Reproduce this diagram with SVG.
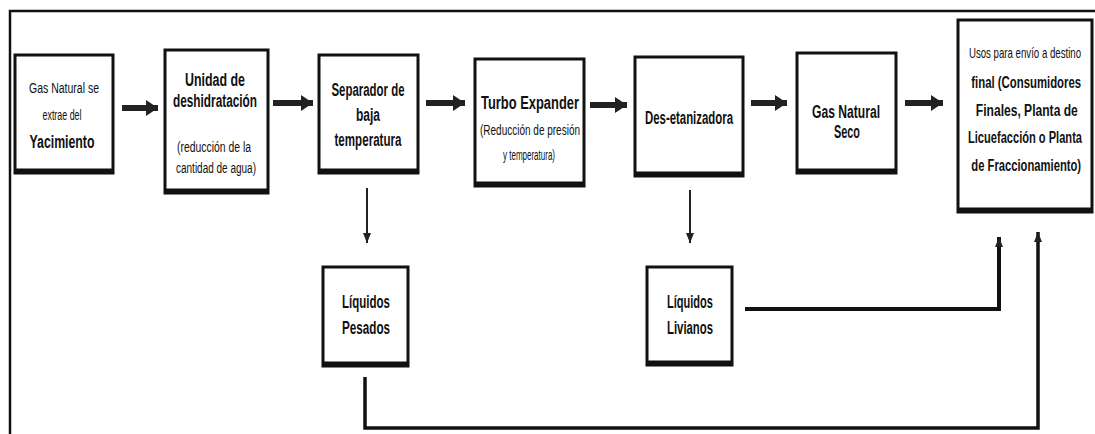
<svg xmlns="http://www.w3.org/2000/svg" width="1095" height="434" viewBox="0 0 1095 434">
<style>
.box{fill:#fff;stroke:#111;stroke-width:3}
.base{stroke:#111;stroke-width:5}
.t{font-family:"Liberation Sans",Arial,sans-serif;font-weight:bold;font-size:18px;fill:#111;text-anchor:middle}
.s{font-family:"Liberation Sans",Arial,sans-serif;font-size:14px;fill:#111;text-anchor:middle}
.u{font-family:"Liberation Sans",Arial,sans-serif;font-weight:bold;font-size:17px;fill:#111;text-anchor:middle}
.big{stroke:#222;stroke-width:6;fill:none}
.thin{stroke:#222;stroke-width:2;fill:none}
.flow{stroke:#111;fill:none}
</style>
<defs>
<marker id="ah" markerUnits="userSpaceOnUse" viewBox="0 0 12 16" refX="12" refY="8" markerWidth="12" markerHeight="16" orient="auto"><path d="M0,0 L12,8 L0,16 z" fill="#222"/></marker>
<marker id="as" markerUnits="userSpaceOnUse" viewBox="0 0 10 8" refX="10" refY="4" markerWidth="10" markerHeight="8" orient="auto"><path d="M0,0 L10,4 L0,8 z" fill="#222"/></marker>
</defs>
<rect x="10" y="11" width="1100" height="440" fill="none" stroke="#111" stroke-width="2.5"/>

<g id="n1">
<rect class="box" x="15" y="55" width="98" height="118"/><line class="base" x1="15" y1="171" x2="113" y2="171"/>
<text class="s" x="64" y="93" textLength="70" lengthAdjust="spacingAndGlyphs">Gas Natural se</text>
<text class="s" x="62" y="120" textLength="39" lengthAdjust="spacingAndGlyphs">extrae del</text>
<text class="t" x="62" y="148" textLength="65" lengthAdjust="spacingAndGlyphs">Yacimiento</text>
</g>
<g id="n2">
<rect class="box" x="165" y="50" width="103" height="143"/><line class="base" x1="165" y1="191" x2="268" y2="191"/>
<text class="t" x="215" y="86" textLength="60" lengthAdjust="spacingAndGlyphs">Unidad de</text>
<text class="t" x="215" y="107" textLength="84" lengthAdjust="spacingAndGlyphs">deshidratación</text>
<text class="s" x="214" y="152" textLength="74" lengthAdjust="spacingAndGlyphs">(reducción de la</text>
<text class="s" x="216" y="173" textLength="80" lengthAdjust="spacingAndGlyphs">cantidad de agua)</text>
</g>
<g id="n3">
<rect class="box" x="319" y="55" width="99" height="118"/><line class="base" x1="319" y1="171" x2="418" y2="171"/>
<text class="t" x="368" y="96" textLength="73" lengthAdjust="spacingAndGlyphs">Separador de</text>
<text class="t" x="368" y="121" textLength="24" lengthAdjust="spacingAndGlyphs">baja</text>
<text class="t" x="368" y="146" textLength="67" lengthAdjust="spacingAndGlyphs">temperatura</text>
</g>
<g id="n4">
<rect class="box" x="475" y="59" width="109" height="127"/><line class="base" x1="475" y1="184" x2="584" y2="184"/>
<text class="t" x="530" y="109" textLength="98" lengthAdjust="spacingAndGlyphs">Turbo Expander</text>
<text class="s" x="530" y="135" textLength="100" lengthAdjust="spacingAndGlyphs">(Reducción de presión</text>
<text class="s" x="529" y="160" textLength="52" lengthAdjust="spacingAndGlyphs">y temperatura)</text>
</g>
<g id="n5">
<rect class="box" x="635" y="57" width="108" height="119"/><line class="base" x1="635" y1="174" x2="743" y2="174"/>
<text class="t" x="689" y="124" textLength="88" lengthAdjust="spacingAndGlyphs">Des-etanizadora</text>
</g>
<g id="n6">
<rect class="box" x="797" y="53" width="99" height="120"/><line class="base" x1="797" y1="171" x2="896" y2="171"/>
<text class="t" x="846" y="118" textLength="68" lengthAdjust="spacingAndGlyphs">Gas Natural</text>
<text class="t" x="847" y="138" textLength="26" lengthAdjust="spacingAndGlyphs">Seco</text>
</g>
<g id="n7">
<rect class="box" x="958" y="20" width="134" height="192"/><line class="base" x1="958" y1="210" x2="1092" y2="210"/>
<g transform="translate(1025,0) scale(0.6,1)">
<text class="s" x="0" y="58" textLength="187" lengthAdjust="spacingAndGlyphs">Usos para envío a destino</text>
<text class="u" x="2" y="88" textLength="183" lengthAdjust="spacingAndGlyphs">final (Consumidores</text>
<text class="u" x="3" y="116" textLength="170" lengthAdjust="spacingAndGlyphs">Finales, Planta de</text>
<text class="u" x="0" y="143" textLength="190" lengthAdjust="spacingAndGlyphs">Licuefacción o Planta</text>
<text class="u" x="2" y="171" textLength="183" lengthAdjust="spacingAndGlyphs">de Fraccionamiento)</text>
</g>
</g>
<g id="n8">
<rect class="box" x="323" y="267" width="85" height="99"/><line class="base" x1="323" y1="364" x2="408" y2="364"/>
<text class="t" x="366" y="308" textLength="48" lengthAdjust="spacingAndGlyphs">Líquidos</text>
<text class="t" x="366" y="334" textLength="48" lengthAdjust="spacingAndGlyphs">Pesados</text>
</g>
<g id="n9">
<rect class="box" x="647" y="267" width="85" height="98"/><line class="base" x1="647" y1="363" x2="732" y2="363"/>
<text class="t" x="690" y="308" textLength="46" lengthAdjust="spacingAndGlyphs">Líquidos</text>
<text class="t" x="690" y="334" textLength="46" lengthAdjust="spacingAndGlyphs">Livianos</text>
</g>

<g id="connectors">
<line class="big" x1="122" y1="108" x2="158" y2="108" marker-end="url(#ah)"/>
<line class="big" x1="273" y1="103" x2="313" y2="103" marker-end="url(#ah)"/>
<line class="big" x1="426" y1="103" x2="465" y2="103" marker-end="url(#ah)"/>
<line class="big" x1="590" y1="105" x2="627" y2="105" marker-end="url(#ah)"/>
<line class="big" x1="751" y1="103" x2="787" y2="103" marker-end="url(#ah)"/>
<line class="big" x1="905" y1="103" x2="943" y2="103" marker-end="url(#ah)"/>
<line class="thin" x1="367" y1="188" x2="367" y2="243" marker-end="url(#as)"/>
<line class="thin" x1="690" y1="190" x2="690" y2="243" marker-end="url(#as)"/>
<path class="flow" stroke-width="4" d="M745,309 H999 V237" marker-end="url(#as)"/>
<path class="flow" stroke-width="3.5" d="M365,377 V428 H1038 V232" marker-end="url(#as)"/>
</g>
</svg>
